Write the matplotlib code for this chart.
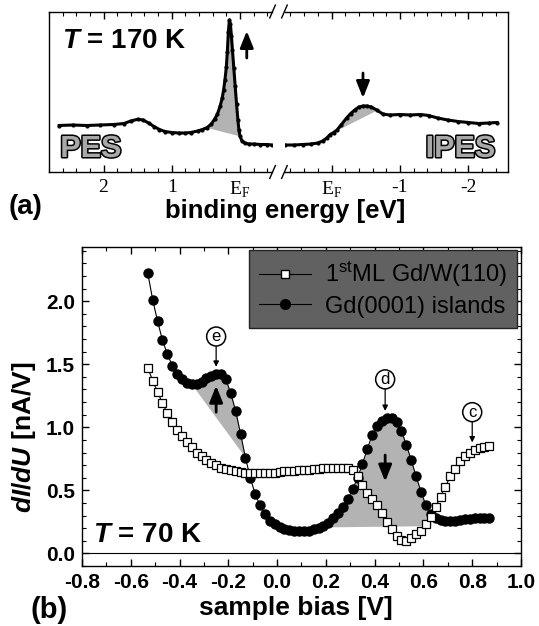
import numpy as np
import matplotlib.pyplot as plt
import matplotlib.patheffects as pe
from matplotlib.lines import Line2D
from matplotlib.ticker import MultipleLocator, FormatStrFormatter

plt.rcParams['font.family'] = ['Liberation Sans', 'DejaVu Sans']
plt.rcParams['font.weight'] = 'bold'
plt.rcParams['axes.unicode_minus'] = False
plt.rcParams['mathtext.fontset'] = 'custom'
plt.rcParams['mathtext.it'] = 'Liberation Sans:italic:bold'
plt.rcParams['mathtext.rm'] = 'Liberation Sans:bold'
plt.rcParams['mathtext.bf'] = 'Liberation Sans:bold'

# ---- (a) photoemission / inverse photoemission, arbitrary intensity ----
pes_energy = [2.65, 2.45, 2.25, 2.05, 1.85, 1.70, 1.60, 1.50, 1.42, 1.34,
              1.26, 1.18, 1.10, 1.00, 0.90, 0.80, 0.72, 0.62, 0.55, 0.48,
              0.42, 0.37, 0.33, 0.29, 0.26, 0.24, 0.22, 0.20, 0.185, 0.17,
              0.155, 0.14, 0.125, 0.11, 0.09, 0.07, 0.05, 0.03, 0.015, 0.0,
              -0.03, -0.07, -0.13, -0.20, -0.30, -0.40, -0.47]
pes_intensity = [46.5, 47, 46.5, 47, 47.5, 48.5, 51, 52.7, 52, 49,
                 45.5, 42.5, 40.5, 39.5, 39, 39, 39.5, 41, 42.5, 44.5,
                 48, 53, 58, 66, 74, 82, 92, 105, 120, 140,
                 152, 148, 136, 122, 104, 86, 68, 52, 42, 36,
                 31, 29, 28, 28, 27.5, 27.5, 27]

ipes_energy = [0.68, 0.55, 0.42, 0.30, 0.20, 0.13, 0.07, 0.02, -0.03, -0.08,
               -0.14, -0.22, -0.28, -0.34, -0.40, -0.46, -0.52, -0.58, -0.66, -0.75,
               -0.85, -1.00, -1.15, -1.30, -1.42, -1.55, -1.70, -1.85, -2.00, -2.15,
               -2.30, -2.42]
ipes_intensity = [27, 27, 27.5, 28, 29, 31, 34, 37.5, 39.5, 42,
                  47, 54, 58.5, 62, 65, 66, 66, 65, 62, 58,
                  57, 57.5, 57, 57.5, 56.5, 54, 52, 50.5, 49.5, 48.5,
                  49, 49.5]

# ---- (b) tunneling spectra ----
bias = [-0.53, -0.51, -0.49, -0.47, -0.45, -0.43, -0.41, -0.39, -0.37, -0.35,
        -0.33, -0.31, -0.29, -0.27, -0.25, -0.23, -0.21, -0.19, -0.17, -0.15,
        -0.13, -0.11, -0.09, -0.07, -0.05, -0.03, -0.01, 0.01, 0.03, 0.05,
        0.07, 0.09, 0.11, 0.13, 0.15, 0.17, 0.19, 0.21, 0.23, 0.25,
        0.27, 0.29, 0.31, 0.33, 0.35, 0.37, 0.39, 0.41, 0.43, 0.45,
        0.47, 0.49, 0.51, 0.53, 0.55, 0.57, 0.59, 0.61, 0.63, 0.65,
        0.67, 0.69, 0.71, 0.73, 0.75, 0.77, 0.79, 0.81, 0.83, 0.85,
        0.87]
didu_island = [2.22, 2.01, 1.84, 1.69, 1.58, 1.49, 1.42, 1.38, 1.35, 1.34,
               1.34, 1.36, 1.39, 1.41, 1.42, 1.42, 1.38, 1.27, 1.13, 0.95,
               0.76, 0.60, 0.47, 0.38, 0.31, 0.26, 0.23, 0.21, 0.195, 0.185,
               0.18, 0.175, 0.175, 0.18, 0.19, 0.205, 0.22, 0.245, 0.28, 0.32,
               0.37, 0.43, 0.51, 0.60, 0.71, 0.83, 0.94, 1.01, 1.05, 1.07,
               1.07, 1.04, 0.97, 0.86, 0.74, 0.61, 0.49, 0.38, 0.31, 0.28,
               0.265, 0.26, 0.26, 0.26, 0.265, 0.27, 0.275, 0.28, 0.28, 0.28,
               0.28]
didu_ml = [1.47, 1.37, 1.28, 1.19, 1.11, 1.04, 0.98, 0.93, 0.88, 0.84,
           0.80, 0.77, 0.74, 0.72, 0.70, 0.68, 0.67, 0.66, 0.65, 0.645,
           0.64, 0.64, 0.635, 0.635, 0.635, 0.64, 0.64, 0.645, 0.65, 0.65,
           0.655, 0.66, 0.66, 0.665, 0.67, 0.67, 0.675, 0.68, 0.68, 0.68,
           0.68, 0.675, 0.66, 0.61, 0.54, 0.48, 0.43, 0.38, 0.32, 0.25,
           0.19, 0.14, 0.11, 0.10, 0.12, 0.15, 0.18, 0.23, 0.29, 0.37,
           0.45, 0.53, 0.61, 0.67, 0.73, 0.77, 0.80, 0.82, 0.835, 0.845,
           0.85]

SHADE = '#b3b3b3'
W, H = 539, 626


def px_box(x0, y0, x1, y1):
    return [x0 / W, 1 - y1 / H, (x1 - x0) / W, (y1 - y0) / H]


def shade(ax, x, y, lo, hi, base=None):
    x = np.asarray(x, float)
    y = np.asarray(y, float)
    order = np.argsort(x)
    x, y = x[order], y[order]
    m = (x >= lo) & (x <= hi)
    xs, ys = x[m], y[m]
    if base is None:
        base = (ys[0], ys[-1])
    bl = np.interp(xs, [xs[0], xs[-1]], base)
    ax.fill_between(xs, bl, ys, color=SHADE, lw=0, zorder=1)


def big_arrow(ax, tail, tip):
    ax.annotate('', xy=tip, xytext=tail,
                arrowprops=dict(arrowstyle='-|>,head_width=0.4,head_length=1.0',
                                lw=2, color='k', mutation_scale=10,
                                shrinkA=0, shrinkB=0), zorder=6)


fig = plt.figure(figsize=(W / 100, H / 100), dpi=100)

# ---------------- panel (a) ----------------
axL = fig.add_axes(px_box(49, 11.5, 272, 172))
axR = fig.add_axes(px_box(285, 11.5, 508, 172))

shade(axL, pes_energy, pes_intensity, -0.02, 0.52)
shade(axR, ipes_energy, ipes_intensity, -0.72, -0.05)
axL.plot(pes_energy, pes_intensity, color='k', lw=2.2, marker='o', ms=2, zorder=3)
axR.plot(ipes_energy, ipes_intensity, color='k', lw=2.2, marker='o', ms=2, zorder=3)

axL.set_xlim(2.80, -0.47)
axR.set_xlim(0.68, -2.58)
axL.set_xticks([2, 1, 0])
axL.set_xticklabels(['2', '1', r'E$_\mathregular{F}$'],
                    fontfamily='Liberation Serif', fontweight='normal', fontsize=14)
axR.set_xticks([0, -1, -2])
axR.set_xticklabels([r'E$_\mathregular{F}$', '-1', '-2'],
                    fontfamily='Liberation Serif', fontweight='normal', fontsize=14)
for ax in (axL, axR):
    ax.set_ylim(0, 160.5)
    ax.set_yticks([])
    ax.xaxis.set_minor_locator(MultipleLocator(0.2))
    ax.tick_params(axis='x', which='both', direction='in', top=True, bottom=True, pad=5)
    ax.tick_params(axis='x', which='major', length=5, width=1)
    ax.tick_params(axis='x', which='minor', length=3, width=0.8)
    for s in ax.spines.values():
        s.set_linewidth(1)
axL.spines['right'].set_visible(False)
axR.spines['left'].set_visible(False)

kw = dict(color='k', lw=1, clip_on=False)
for yy in (0, 1):
    axL.plot([0.99, 1.015], [yy - 0.04, yy + 0.04], transform=axL.transAxes, **kw)
    axR.plot([-0.015, 0.01], [yy - 0.04, yy + 0.04], transform=axR.transAxes, **kw)

big_arrow(axL, (-0.10, 114), (-0.10, 141))
big_arrow(axR, (-0.46, 99), (-0.46, 74))

axL.text(2.61, 124, r'$T$ = 170 K', fontsize=20, va='baseline', ha='left')
outline = [pe.Stroke(linewidth=2.2, foreground='k'), pe.Normal()]
axL.text(2.635, 15, 'PES', fontsize=22, color='#a8a8a8', va='baseline', ha='left',
         path_effects=outline)
axR.text(-2.39, 15, 'IPES', fontsize=22, color='#a8a8a8', va='baseline', ha='right',
         path_effects=outline)

fig.text(8.5 / W, 1 - 207 / H, '(a)', fontsize=20, va='center', ha='left')
fig.text(285 / W, 1 - 211 / H, 'binding energy [eV]', fontsize=18.5, va='center', ha='center')

# ---------------- panel (b) ----------------
axB = fig.add_axes(px_box(82, 247, 521, 566))

shade(axB, bias, didu_island, -0.355, -0.125)
shade(axB, bias, didu_island, 0.185, 0.635, base=(0.21, 0.22))
axB.axhline(0, color='k', lw=0.8, zorder=2)
axB.plot(bias, didu_island, '-o', color='k', ms=6.5, lw=0.8, zorder=3)
axB.plot(bias, didu_ml, '-s', color='k', mfc='white', mec='k', mew=0.9,
         ms=5.5, lw=0.8, zorder=4)

axB.set_xlim(-0.8, 1.0)
axB.set_ylim(-0.1, 2.43)
axB.xaxis.set_major_locator(MultipleLocator(0.2))
axB.xaxis.set_minor_locator(MultipleLocator(0.1))
axB.yaxis.set_major_locator(MultipleLocator(0.5))
axB.yaxis.set_minor_locator(MultipleLocator(0.1))
axB.xaxis.set_major_formatter(FormatStrFormatter('%.1f'))
axB.yaxis.set_major_formatter(FormatStrFormatter('%.1f'))
axB.tick_params(which='both', direction='in', top=True, right=True, labelsize=15)
axB.tick_params(which='major', length=5, width=1, pad=5)
axB.tick_params(which='minor', length=3, width=0.8)
for s in axB.spines.values():
    s.set_linewidth(1)

# peak labels
for lab, x, yl, yt in [('e', -0.25, 1.72, 1.48), ('d', 0.443, 1.38, 1.13), ('c', 0.80, 1.12, 0.88)]:
    axB.annotate(lab, xy=(x, yt), xytext=(x, yl), ha='center', va='center',
                 fontsize=12, fontweight='normal',
                 bbox=dict(boxstyle='circle,pad=0.12', fc='white', ec='k', lw=1.1),
                 arrowprops=dict(arrowstyle='-|>', color='k', lw=0.9,
                                 mutation_scale=8, shrinkA=0, shrinkB=0),
                 zorder=6)

big_arrow(axB, (-0.25, 1.12), (-0.25, 1.33))
big_arrow(axB, (0.443, 0.78), (0.443, 0.57))

axB.text(-0.755, 0.087, r'$T$ = 70 K', fontsize=20, va='baseline', ha='left')

handles = [Line2D([], [], color='k', lw=0.8, marker='s', mfc='white', mec='k', ms=6),
           Line2D([], [], color='k', lw=0.8, marker='o', ms=7)]
labels = [r'1$^\mathregular{st}$ML Gd/W(110)', 'Gd(0001) islands']
leg = axB.legend(handles, labels, loc='upper right', bbox_to_anchor=(0.991, 0.991),
                 borderaxespad=0, fancybox=False, framealpha=1, facecolor='#616161',
                 edgecolor='#222222', handlelength=2.2, handletextpad=0.6,
                 borderpad=0.42, labelspacing=0.28,
                 prop=dict(family='Liberation Sans', weight='normal', size=17))
leg.get_frame().set_linewidth(1)
leg.set_zorder(7)

fig.text(24 / W, 1 - 437 / H, r'$dI/dU$ [nA/V]', fontsize=19, rotation=90,
         va='center', ha='center')
fig.text(296 / W, 1 - 608 / H, 'sample bias [V]', fontsize=19, va='center', ha='center')
fig.text(30 / W, 1 - 610 / H, '(b)', fontsize=21, va='center', ha='left')

fig.savefig('out.png', dpi=100)
